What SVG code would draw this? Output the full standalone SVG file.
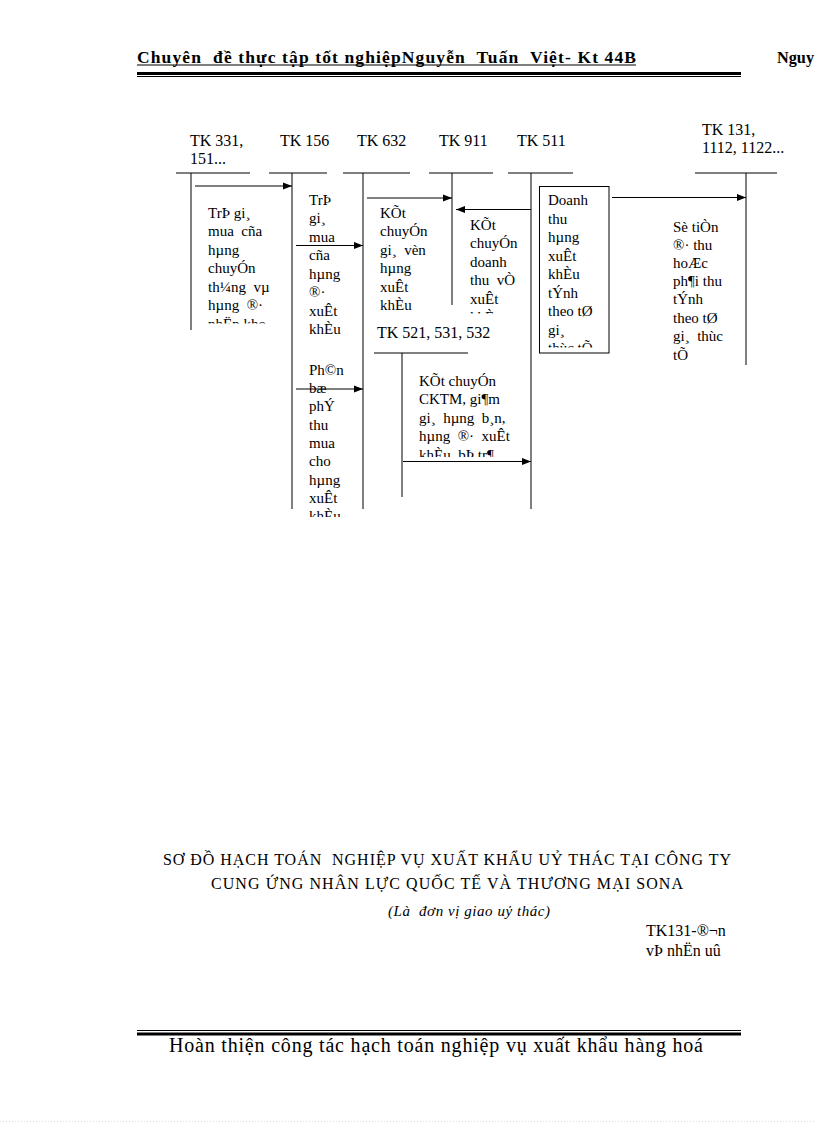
<svg xmlns="http://www.w3.org/2000/svg" width="816" height="1123" viewBox="0 0 816 1123">
<defs>
<style>
.t{font-family:"Liberation Serif","Times New Roman",serif;fill:#000;white-space:pre}
.b{font-size:15px}
.l{font-size:16px}
.ln{stroke:#000;stroke-width:1;fill:none}
.ar{stroke:#000;stroke-width:1;fill:none;marker-end:url(#ah)}
</style>
<marker id="ah" markerUnits="userSpaceOnUse" markerWidth="10" markerHeight="8" refX="9" refY="4" orient="auto">
<path d="M0,0.5 L9,4 L0,7.5 Z" fill="#000"/>
</marker>
<clipPath id="cA"><rect x="200" y="195" width="90" height="128.5"/></clipPath>
<clipPath id="cB"><rect x="300" y="185" width="60" height="332"/></clipPath>
<clipPath id="cD"><rect x="460" y="210" width="68" height="103.5"/></clipPath>
<clipPath id="cE"><rect x="541" y="188" width="66" height="159.5"/></clipPath>
<clipPath id="cG"><rect x="410" y="365" width="118" height="92"/></clipPath>
</defs>
<rect x="0" y="0" width="816" height="1123" fill="#fff"/>

<g id="header">
<text class="t" x="137" y="63" font-size="17.5" font-weight="bold" textLength="499" lengthAdjust="spacing">Chuyên  đề thực tập tốt nghiệpNguyễn  Tuấn  Việt- Kt 44B</text>
<line x1="137" y1="65" x2="636" y2="65" stroke="#000" stroke-width="1.2"/>
<text class="t" x="777" y="63" font-size="17" font-weight="bold" textLength="37" lengthAdjust="spacingAndGlyphs">Nguy</text>
<rect x="137" y="72" width="604" height="3" fill="#000"/>
<line x1="137" y1="76.5" x2="741" y2="76.5" stroke="#000" stroke-width="1"/>
</g>

<g id="tk331">
<text class="t l" x="190" y="146">TK 331,</text>
<text class="t l" x="190" y="164">151...</text>
<line class="ln" x1="176" y1="173" x2="250" y2="173"/>
<line class="ln" x1="191" y1="173" x2="191" y2="330"/>
<g clip-path="url(#cA)">
<text class="t b" x="208" y="217.5">TrÞ gi¸</text>
<text class="t b" x="208" y="236">mua  cña</text>
<text class="t b" x="208" y="254.5">hµng</text>
<text class="t b" x="208" y="273">chuyÓn</text>
<text class="t b" x="208" y="291.5">th¼ng  vµ</text>
<text class="t b" x="208" y="310">hµng  ®·</text>
<text class="t b" x="208" y="328.5">nhËp kho</text>
</g>
</g>

<g id="tk156">
<text class="t l" x="280" y="146">TK 156</text>
<line class="ln" x1="269" y1="173" x2="327" y2="173"/>
<line class="ln" x1="292" y1="173" x2="292" y2="509"/>
<g clip-path="url(#cB)">
<text class="t b" x="309" y="204.5">TrÞ</text>
<text class="t b" x="309" y="223">gi¸</text>
<text class="t b" x="309" y="241.5">mua</text>
<text class="t b" x="309" y="260">cña</text>
<text class="t b" x="309" y="278.5">hµng</text>
<text class="t b" x="309" y="297">®·</text>
<text class="t b" x="309" y="315.5">xuÊt</text>
<text class="t b" x="309" y="334">khÈu</text>
<text class="t b" x="309" y="374.5">Ph©n</text>
<text class="t b" x="309" y="392.8">bæ</text>
<text class="t b" x="309" y="411.2">phÝ</text>
<text class="t b" x="309" y="429.5">thu</text>
<text class="t b" x="309" y="447.8">mua</text>
<text class="t b" x="309" y="466.2">cho</text>
<text class="t b" x="309" y="484.5">hµng</text>
<text class="t b" x="309" y="502.8">xuÊt</text>
<text class="t b" x="309" y="521.2">khÈu</text>
</g>
</g>

<g id="tk632">
<text class="t l" x="357" y="146">TK 632</text>
<line class="ln" x1="343" y1="173" x2="410" y2="173"/>
<line class="ln" x1="363" y1="173" x2="363" y2="509"/>
<text class="t b" x="380" y="217.5">KÕt</text>
<text class="t b" x="380" y="236">chuyÓn</text>
<text class="t b" x="380" y="254.5">gi¸  vèn</text>
<text class="t b" x="380" y="273">hµng</text>
<text class="t b" x="380" y="291.5">xuÊt</text>
<text class="t b" x="380" y="310">khÈu</text>
</g>

<g id="tk911">
<text class="t l" x="439" y="146">TK 911</text>
<line class="ln" x1="429" y1="173" x2="493" y2="173"/>
<line class="ln" x1="452" y1="173" x2="452" y2="305"/>
<g clip-path="url(#cD)">
<text class="t b" x="470" y="229.5">KÕt</text>
<text class="t b" x="470" y="248">chuyÓn</text>
<text class="t b" x="470" y="266.5">doanh</text>
<text class="t b" x="470" y="285">thu  vÒ</text>
<text class="t b" x="470" y="303.5">xuÊt</text>
<text class="t b" x="470" y="322">khÈu</text>
</g>
</g>

<g id="tk511">
<text class="t l" x="517" y="146">TK 511</text>
<line class="ln" x1="508" y1="173" x2="573" y2="173"/>
<line class="ln" x1="531" y1="173" x2="531" y2="509"/>
</g>

<g id="doanhthu">
<rect x="539.5" y="186.5" width="69.5" height="166.5" fill="#fff" stroke="#000" stroke-width="1"/>
<g clip-path="url(#cE)">
<text class="t b" x="548" y="205">Doanh</text>
<text class="t b" x="548" y="223.5">thu</text>
<text class="t b" x="548" y="242">hµng</text>
<text class="t b" x="548" y="260.5">xuÊt</text>
<text class="t b" x="548" y="279">khÈu</text>
<text class="t b" x="548" y="297.5">tÝnh</text>
<text class="t b" x="548" y="316">theo tØ</text>
<text class="t b" x="548" y="334.5">gi¸</text>
<text class="t b" x="548" y="353">thùc tÕ</text>
</g>
</g>

<g id="tk131">
<text class="t l" x="702" y="135">TK 131,</text>
<text class="t l" x="702" y="153">1112, 1122...</text>
<line class="ln" x1="695" y1="173" x2="777" y2="173"/>
<line class="ln" x1="746" y1="173" x2="746" y2="365"/>
<text class="t b" x="673" y="231.5">Sè tiÒn</text>
<text class="t b" x="673" y="249.5">®· thu</text>
<text class="t b" x="673" y="267.5">hoÆc</text>
<text class="t b" x="673" y="286">ph¶i thu</text>
<text class="t b" x="673" y="304">tÝnh</text>
<text class="t b" x="673" y="322.5">theo tØ</text>
<text class="t b" x="673" y="341">gi¸  thùc</text>
<text class="t b" x="673" y="359.5">tÕ</text>
</g>

<g id="tk521">
<text class="t l" x="377" y="338">TK 521, 531, 532</text>
<line class="ln" x1="374" y1="353" x2="468" y2="353"/>
<line class="ln" x1="402" y1="353" x2="402" y2="497"/>
<g clip-path="url(#cG)">
<text class="t b" x="419" y="385.5">KÕt chuyÓn</text>
<text class="t b" x="419" y="404">CKTM, gi¶m</text>
<text class="t b" x="419" y="422.5">gi¸  hµng  b¸n,</text>
<text class="t b" x="419" y="441">hµng  ®·  xuÊt</text>
<text class="t b" x="419" y="459.5">khÈu  bÞ tr¶</text>
</g>
</g>

<g id="connectors">
<line class="ar" x1="195" y1="186" x2="292" y2="186"/>
<line class="ar" x1="296" y1="245.5" x2="363" y2="245.5"/>
<line class="ar" x1="367" y1="198" x2="452" y2="198"/>
<line class="ar" x1="531" y1="209.5" x2="456" y2="209.5"/>
<line class="ar" x1="612" y1="197.5" x2="746" y2="197.5"/>
<line class="ar" x1="296" y1="389" x2="363" y2="389"/>
<line class="ar" x1="403" y1="461.5" x2="531" y2="461.5"/>
</g>

<g id="title">
<text class="t" x="163" y="865" font-size="16" textLength="568" lengthAdjust="spacing">SƠ ĐỒ HẠCH TOÁN  NGHIỆP VỤ XUẤT KHẨU UỶ THÁC TẠI CÔNG TY</text>
<text class="t" x="211" y="889" font-size="16" textLength="472" lengthAdjust="spacing">CUNG ỨNG NHÂN LỰC QUỐC TẾ VÀ THƯƠNG MẠI SONA</text>
<text class="t" x="388" y="916" font-size="15" font-style="italic" textLength="162" lengthAdjust="spacing">(Là  đơn vị giao uỷ thác)</text>
<text class="t l" x="646" y="936">TK131-®¬n</text>
<text class="t l" x="646" y="955.5">vÞ nhËn uû</text>
</g>

<g id="footer">
<line x1="137" y1="1030.5" x2="741" y2="1030.5" stroke="#000" stroke-width="1"/>
<rect x="137" y="1032.5" width="604" height="3" fill="#000"/>
<text class="t" x="169" y="1051.5" font-size="20" textLength="534" lengthAdjust="spacing">Hoàn thiện công tác hạch toán nghiệp vụ xuất khẩu hàng hoá</text>
<line x1="0" y1="1121.5" x2="816" y2="1121.5" stroke="#ddd" stroke-width="1" stroke-dasharray="1,2"/>
</g>
</svg>
